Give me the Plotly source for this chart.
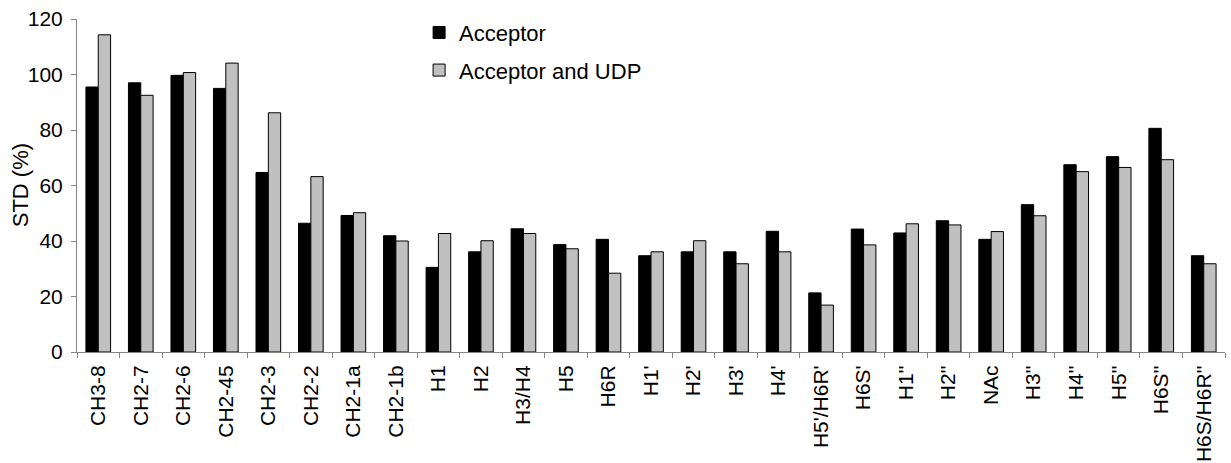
import plotly.graph_objects as go

categories = ["CH3-8", "CH2-7", "CH2-6", "CH2-45", "CH2-3", "CH2-2", "CH2-1a", "CH2-1b",
              "H1", "H2", "H3/H4", "H5", "H6R", "H1'", "H2'", "H3'", "H4'", "H5'/H6R'",
              "H6S'", "H1''", "H2''", "NAc", "H3''", "H4''", "H5''", "H6S''", "H6S/H6R''"]
acceptor = [95.5, 97, 99.7, 95, 64.7, 46.4, 49.2, 41.9,
            30.5, 36.1, 44.4, 38.7, 40.6, 34.7, 36.1, 36.1, 43.5, 21.3,
            44.3, 42.9, 47.3, 40.6, 53.1, 67.5, 70.4, 80.6, 34.7]
acceptor_udp = [114.3, 92.5, 100.7, 104.1, 86.2, 63.2, 50.2, 40,
                42.7, 40.1, 42.7, 37.2, 28.4, 36.1, 40.1, 31.8, 36.1, 16.9,
                38.6, 46.2, 45.8, 43.4, 49.1, 65, 66.5, 69.3, 31.8]
y_ticks = [0, 20, 40, 60, 80, 100, 120]

FONT = "Liberation Sans, Arial, sans-serif"
AXIS_GRAY = "#858585"

fig = go.Figure()
fig.add_trace(go.Bar(x=categories, y=acceptor, name="Acceptor", legendgroup="a",
                     marker=dict(color="#000000", line=dict(color="#000000", width=1))))
fig.add_trace(go.Bar(x=categories, y=acceptor_udp, name="Acceptor and UDP", legendgroup="b",
                     marker=dict(color="#c0c0c0", line=dict(color="#000000", width=1))))

fig.update_layout(
    width=1231, height=463,
    margin=dict(l=77, r=6, t=19, b=111, autoexpand=False),
    paper_bgcolor="white", plot_bgcolor="white",
    barmode="group", bargap=0.42, bargroupgap=0,
    font=dict(family=FONT, color="#000000", size=21),
    legend=dict(x=0.298, y=1.022, xanchor="left", yanchor="top",
                font=dict(size=22, family=FONT), bgcolor="rgba(0,0,0,0)",
                traceorder="grouped", tracegroupgap=6),
    showlegend=True,
    annotations=[dict(text="STD (%)", textangle=-90, x=-0.049, xref="paper",
                      y=0.5, yref="paper", xanchor="center", yanchor="middle",
                      showarrow=False, font=dict(size=22, family=FONT, color="#000000"))],
)
fig.update_xaxes(
    type="category", tickangle=-90, tickson="boundaries",
    tickmode="array", tickvals=categories, ticktext=categories,
    ticks="outside", ticklen=5, tickcolor=AXIS_GRAY, tickwidth=1,
    ticklabelstandoff=4,
    showline=True, linecolor=AXIS_GRAY, linewidth=1, automargin=False,
    showgrid=False, tickfont=dict(size=21, family=FONT),
)
fig.update_yaxes(
    range=[0, 120], tickvals=y_ticks, ticks="outside", ticklen=5,
    tickcolor=AXIS_GRAY, tickwidth=1, automargin=False, ticklabelstandoff=4,
    showline=True, linecolor=AXIS_GRAY, linewidth=1, showgrid=False, zeroline=False,
    tickfont=dict(size=21, family=FONT),
)

fig.write_html("out.html")
